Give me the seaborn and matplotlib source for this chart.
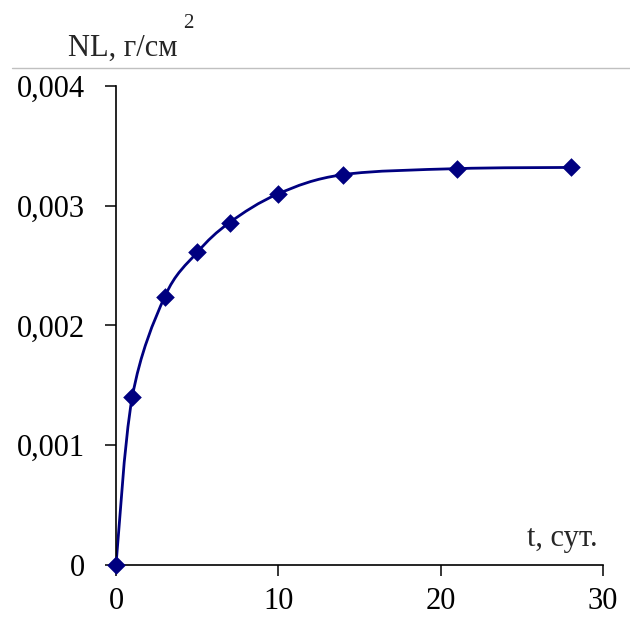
import numpy as np
import pandas as pd
import matplotlib
matplotlib.use("Agg")
import matplotlib.pyplot as plt
import seaborn as sns
from matplotlib.path import Path
from matplotlib.patches import PathPatch
from matplotlib.ticker import FuncFormatter
from matplotlib.lines import Line2D

# данные
t_days = [0, 1, 3, 5, 7, 10, 14, 21, 28]
nl_values = [0.0, 0.00140, 0.00224, 0.00261, 0.00286, 0.00310, 0.00326, 0.00331, 0.00332]
x_ticks = [0, 10, 20, 30]
y_ticks = [0, 0.001, 0.002, 0.003, 0.004]

sns.set_style("white")
plt.rcParams['font.family'] = ['Liberation Serif', 'DejaVu Serif']

df = pd.DataFrame({"t": t_days, "NL": nl_values})
color = "#000080"

fig = plt.figure(figsize=(6.3, 6.17), dpi=100)
ax = fig.add_axes([0.1841, 0.0843, 0.773, 0.7763])

# сглаженная линия как в Excel (Безье по соседним точкам)
x = df["t"].to_numpy(dtype=float)
y = df["NL"].to_numpy(dtype=float)
px = np.concatenate([[x[0]], x, [x[-1]]])
py = np.concatenate([[y[0]], y, [y[-1]]])
verts = [(x[0], y[0])]
codes = [Path.MOVETO]
for i in range(1, len(px) - 2):
    c1 = (px[i] + (px[i + 1] - px[i - 1]) / 6, py[i] + (py[i + 1] - py[i - 1]) / 6)
    c2 = (px[i + 1] - (px[i + 2] - px[i]) / 6, py[i + 1] - (py[i + 2] - py[i]) / 6)
    verts += [c1, c2, (px[i + 1], py[i + 1])]
    codes += [Path.CURVE4] * 3
ax.add_patch(PathPatch(Path(verts, codes), facecolor="none", edgecolor=color, lw=2.0, zorder=2))

sns.scatterplot(data=df, x="t", y="NL", ax=ax, marker="D", s=90, color=color,
                edgecolor=color, linewidth=0, zorder=3, clip_on=False)

ax.set_xlim(0, 30)
ax.set_ylim(0, 0.004)
ax.set_xticks(x_ticks)
ax.set_yticks(y_ticks)
ax.yaxis.set_major_formatter(FuncFormatter(lambda v, p: "0" if v == 0 else f"{v:.3f}".replace(".", ",")))
ax.set_xlabel("")
ax.set_ylabel("")
for s in ["top", "right"]:
    ax.spines[s].set_visible(False)
for s in ["left", "bottom"]:
    ax.spines[s].set_color("black")
    ax.spines[s].set_linewidth(1.2)
ax.tick_params(axis="both", direction="out", length=8, width=1.1, color="black",
               labelsize=22, labelcolor="black", left=True, bottom=True)
ax.tick_params(axis="y", pad=14)
ax.tick_params(axis="x", pad=8)

# подписи осей
fig.text(68 / 630, 1 - 56 / 617, "NL, г/см", fontsize=22, ha="left", va="baseline")
fig.text(183 / 630, 1 - 28 / 617, "2", fontsize=15, ha="left", va="baseline")
fig.text(598 / 630, 1 - 546 / 617, "t, сут.", fontsize=22, ha="right", va="baseline")

# серая линия сверху
fig.add_artist(Line2D([12 / 630, 1.0], [1 - 68 / 617, 1 - 68 / 617], color="#c0c0c0", lw=1.0,
                      transform=fig.transFigure))

fig.savefig("out.png", dpi=100)
